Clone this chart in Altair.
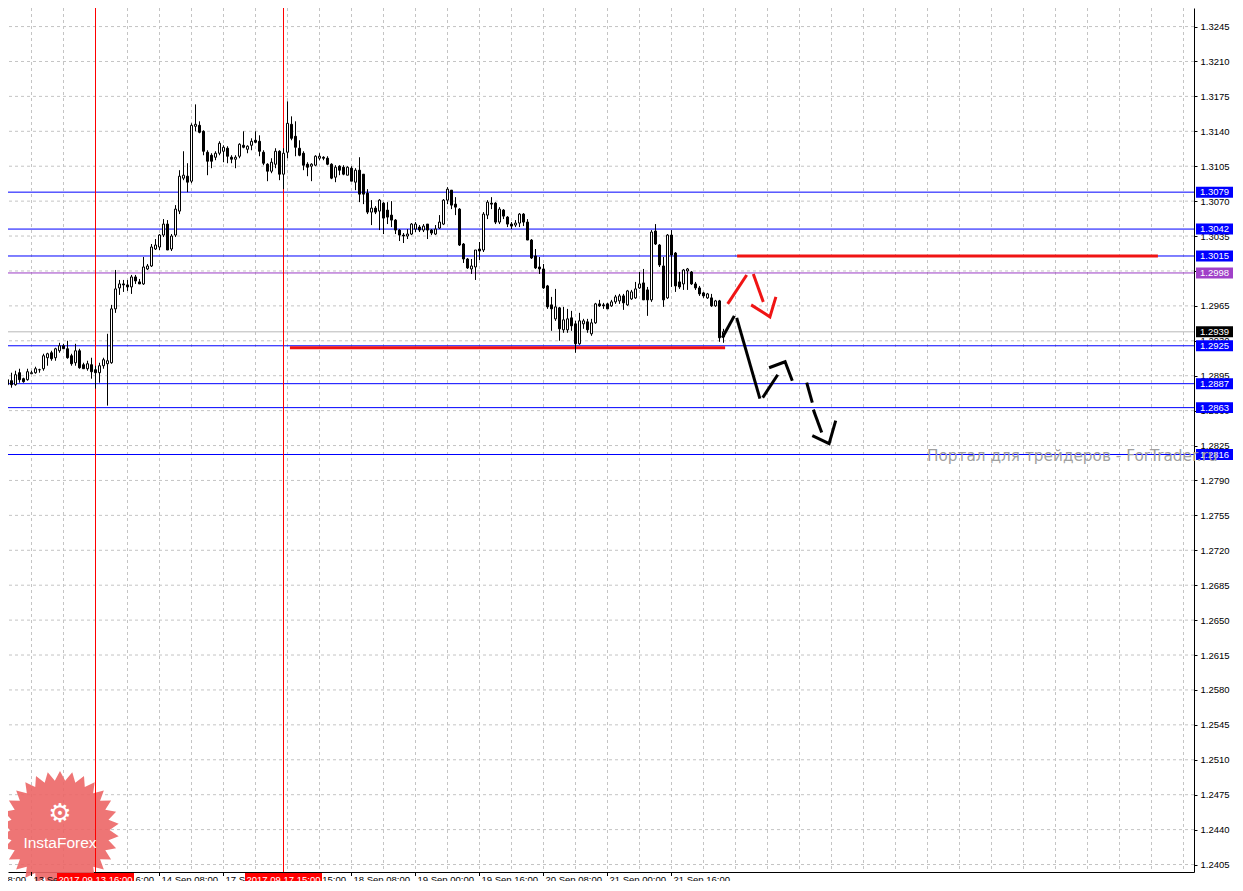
import math
import altair as alt
import pandas as pd

# ---------------- data (H1 candles) ----------------
opens = [1.2893,1.2886,1.2890,1.2886,1.2898,1.2892,1.2891,1.2897,1.2898,1.2901,
1.2902,1.2913,1.2918,1.2913,1.2920,1.2925,1.2922,1.2915,1.2908,1.2920,
1.2906,1.2902,1.2906,1.2901,1.2898,1.2905,1.2907,1.2908,1.2962,1.2983,
1.2987,1.2986,1.2984,1.2994,1.2989,1.2987,1.3002,1.3005,1.3022,1.3024,
1.3036,1.3047,1.3022,1.3036,1.3060,1.3093,1.3095,1.3090,1.3145,1.3146,
1.3140,1.3119,1.3116,1.3114,1.3118,1.3120,1.3123,1.3114,1.3112,1.3115,
1.3126,1.3122,1.3126,1.3131,1.3130,1.3119,1.3107,1.3100,1.3107,1.3120,
1.3097,1.3119,1.3147,1.3135,1.3123,1.3118,1.3107,1.3105,1.3106,1.3113,
1.3114,1.3113,1.3107,1.3094,1.3105,1.3104,1.3096,1.3103,1.3089,1.3101,
1.3097,1.3078,1.3059,1.3063,1.3060,1.3068,1.3061,1.3056,1.3051,1.3041,
1.3036,1.3035,1.3037,1.3042,1.3044,1.3041,1.3047,1.3041,1.3037,1.3043,
1.3047,1.3071,1.3081,1.3067,1.3062,1.3027,1.3012,1.3002,1.3004,1.3022,
1.3021,1.3056,1.3068,1.3068,1.3049,1.3061,1.3054,1.3047,1.3046,1.3048,
1.3057,1.3049,1.3031,1.3015,1.3004,1.3002,1.2985,1.2966,1.2952,1.2963,
1.2941,1.2941,1.2953,1.2947,1.2927,1.2947,1.2949,1.2937,1.2948,1.2967,
1.2966,1.2967,1.2965,1.2969,1.2970,1.2975,1.2966,1.2972,1.2973,1.2983,
1.2988,1.2981,1.2971,1.3040,1.3026,1.3005,1.2973,1.3036,1.3018,1.2989,
1.2987,1.3000,1.2999,1.2987,1.2983,1.2978,1.2973,1.2973,1.2965,1.2970,
1.2934]
highs = [1.2907,1.2898,1.2898,1.2900,1.2902,1.2893,1.2902,1.2900,1.2904,1.2902,
1.2917,1.2918,1.2920,1.2923,1.2928,1.2927,1.2930,1.2917,1.2927,1.2922,
1.2908,1.2910,1.2913,1.2905,1.2908,1.2913,1.2937,1.2966,1.3001,1.2991,
1.2991,1.2991,1.2996,1.2996,1.2992,1.3014,1.3007,1.3027,1.3032,1.3037,
1.3052,1.3051,1.3037,1.3066,1.3101,1.3120,1.3108,1.3148,1.3167,1.3150,
1.3141,1.3121,1.3118,1.3120,1.3130,1.3126,1.3125,1.3116,1.3116,1.3128,
1.3140,1.3126,1.3133,1.3140,1.3136,1.3121,1.3108,1.3113,1.3123,1.3121,
1.3123,1.3170,1.3155,1.3150,1.3131,1.3120,1.3109,1.3108,1.3116,1.3118,
1.3115,1.3115,1.3108,1.3106,1.3106,1.3106,1.3105,1.3105,1.3103,1.3114,
1.3097,1.3082,1.3071,1.3065,1.3072,1.3069,1.3069,1.3070,1.3052,1.3042,
1.3038,1.3042,1.3048,1.3049,1.3046,1.3047,1.3047,1.3042,1.3046,1.3056,
1.3072,1.3084,1.3081,1.3074,1.3063,1.3028,1.3013,1.3012,1.3021,1.3029,
1.3059,1.3071,1.3074,1.3069,1.3064,1.3062,1.3055,1.3049,1.3051,1.3058,
1.3058,1.3052,1.3032,1.3022,1.3014,1.3007,1.2986,1.2974,1.2982,1.2964,
1.2964,1.2962,1.2960,1.2950,1.2958,1.2952,1.2952,1.2952,1.2968,1.2971,
1.2968,1.2968,1.2971,1.2976,1.2977,1.2977,1.2981,1.2981,1.2989,1.2999,
1.3002,1.2984,1.3041,1.3047,1.3027,1.3014,1.3037,1.3041,1.3019,1.2999,
1.3002,1.3003,1.3000,1.2989,1.2985,1.2979,1.2978,1.2977,1.2971,1.2971,
1.2942]
lows = [1.2875,1.2883,1.2883,1.2885,1.2888,1.2888,1.2890,1.2897,1.2897,1.2898,
1.2900,1.2905,1.2910,1.2910,1.2918,1.2922,1.2912,1.2905,1.2905,1.2902,
1.2902,1.2900,1.2892,1.2882,1.2888,1.2902,1.2865,1.2907,1.2958,1.2976,
1.2979,1.2980,1.2977,1.2987,1.2987,1.2986,1.3001,1.3004,1.3021,1.3021,
1.3034,1.3021,1.3020,1.3034,1.3057,1.3091,1.3079,1.3088,1.3140,1.3138,
1.3116,1.3096,1.3103,1.3111,1.3116,1.3109,1.3108,1.3108,1.3103,1.3113,
1.3123,1.3118,1.3121,1.3128,1.3115,1.3106,1.3090,1.3098,1.3103,1.3091,
1.3082,1.3113,1.3131,1.3115,1.3115,1.3101,1.3095,1.3090,1.3105,1.3111,
1.3111,1.3106,1.3092,1.3089,1.3096,1.3096,1.3096,1.3090,1.3081,1.3069,
1.3067,1.3057,1.3046,1.3057,1.3041,1.3037,1.3047,1.3044,1.3037,1.3030,
1.3028,1.3032,1.3036,1.3039,1.3039,1.3039,1.3032,1.3036,1.3036,1.3042,
1.3046,1.3067,1.3062,1.3056,1.3025,1.3008,1.3002,1.2997,1.2991,1.3011,
1.3019,1.3052,1.3062,1.3047,1.3047,1.3052,1.3044,1.3042,1.3044,1.3044,
1.3045,1.3031,1.3012,1.3002,1.2997,1.2982,1.2962,1.2940,1.2950,1.2930,
1.2938,1.2938,1.2940,1.2918,1.2926,1.2942,1.2938,1.2935,1.2947,1.2964,
1.2962,1.2962,1.2964,1.2967,1.2967,1.2961,1.2965,1.2971,1.2972,1.2982,
1.2971,1.2955,1.2969,1.3026,1.3004,1.2964,1.2972,1.2984,1.2979,1.2982,
1.2981,1.2981,1.2986,1.2981,1.2975,1.2973,1.2972,1.2964,1.2964,1.2929,
1.2928]
closes = [1.2886,1.2891,1.2886,1.2896,1.2891,1.2889,1.2899,1.2898,1.2902,1.2901,
1.2915,1.2917,1.2912,1.2922,1.2925,1.2922,1.2913,1.2907,1.2920,1.2903,
1.2902,1.2907,1.2899,1.2898,1.2905,1.2911,1.2910,1.2962,1.2982,1.2987,
1.2986,1.2984,1.2994,1.2990,1.2987,1.3004,1.3005,1.3024,1.3026,1.3036,
1.3047,1.3021,1.3035,1.3062,1.3095,1.3096,1.3089,1.3146,1.3147,1.3139,
1.3120,1.3110,1.3110,1.3118,1.3128,1.3124,1.3115,1.3112,1.3114,1.3127,
1.3124,1.3125,1.3130,1.3129,1.3120,1.3108,1.3100,1.3109,1.3120,1.3097,
1.3118,1.3148,1.3133,1.3124,1.3116,1.3106,1.3104,1.3107,1.3115,1.3115,
1.3113,1.3107,1.3093,1.3104,1.3101,1.3097,1.3104,1.3090,1.3101,1.3077,
1.3077,1.3059,1.3063,1.3059,1.3071,1.3053,1.3054,1.3051,1.3041,1.3036,
1.3035,1.3037,1.3047,1.3047,1.3041,1.3045,1.3041,1.3038,1.3042,1.3049,
1.3071,1.3082,1.3066,1.3064,1.3026,1.3012,1.3003,1.3005,1.3021,1.3020,
1.3057,1.3069,1.3067,1.3049,1.3062,1.3055,1.3047,1.3045,1.3048,1.3057,
1.3049,1.3031,1.3013,1.3003,1.3002,1.2983,1.2964,1.2962,1.2964,1.2942,
1.2951,1.2952,1.2945,1.2927,1.2950,1.2950,1.2941,1.2948,1.2967,1.2965,
1.2965,1.2962,1.2969,1.2974,1.2975,1.2968,1.2980,1.2979,1.2982,1.2987,
1.2971,1.2971,1.3039,1.3027,1.3006,1.2971,1.3036,1.3016,1.2985,1.2984,
1.3001,1.3002,1.2987,1.2983,1.2977,1.2975,1.2977,1.2965,1.2970,1.2933,
1.2939]

price_ticks = [1.2405, 1.2440, 1.2475, 1.2510, 1.2545, 1.2580, 1.2615, 1.2650,
               1.2685, 1.2720, 1.2755, 1.2790, 1.2825, 1.2860, 1.2895, 1.2930,
               1.2965, 1.3000, 1.3035, 1.3070, 1.3105, 1.3140, 1.3175, 1.3210, 1.3245]

level_prices = [1.3079, 1.3042, 1.3015, 1.2925, 1.2887, 1.2863, 1.2816, 1.2998, 1.2939]
level_colors = ["#0000ff"] * 7 + ["#9a3cc4", "#b8b8b8"]

box_prices = [1.3079, 1.3042, 1.3015, 1.2998, 1.2939, 1.2925, 1.2887, 1.2863, 1.2816]
box_colors = ["#0000ff", "#0000ff", "#0000ff", "#a040c8", "#000000",
              "#0000ff", "#0000ff", "#0000ff", "#0000ff"]

marker_bars = [23, 70]
marker_labels = ["2017.09.13 16:00", "2017.09.17 15:00"]

zone_start = [71.6, 183.4]
zone_end = [180.4, 288.6]
zone_price = [1.2923, 1.3015]

arrow_id = ["R1", "R1", "R2", "R2", "R3", "R3", "R3",
            "B1", "B1", "B2", "B2", "B3", "B3", "B4", "B4", "B4",
            "B5", "B5", "B6", "B6", "B7", "B7", "B7"]
arrow_bar = [181.05, 185.8, 187.45, 189.95, 186.9, 191.6, 193.1,
             179.7, 182.7, 183.3, 189.1, 189.8, 193.55, 191.4, 195.4, 197.2,
             200.8, 202.2, 202.45, 204.55, 202.2, 206.4, 208.05]
arrow_price = [1.2967, 1.2996, 1.2997, 1.2969, 1.2966, 1.2954, 1.2974,
               1.2933, 1.2955, 1.2953, 1.2872, 1.2873, 1.2896, 1.2903, 1.2909, 1.2890,
               1.2888, 1.2868, 1.2861, 1.2838, 1.2835, 1.2827, 1.2850]

time_label_bars = [-9, 7, 23, 39, 55, 71, 87, 103, 119, 135, 151, 167]
time_labels = ["12 Sep 08:00", "13 Sep 00:00", "13 Sep 16:00", "14 Sep 08:00",
               "17 Sep 00:00", "17 Sep 15:00", "18 Sep 08:00", "19 Sep 00:00",
               "19 Sep 16:00", "20 Sep 08:00", "21 Sep 00:00", "21 Sep 16:00"]

# ---------------- layout ----------------
W, H = 1186, 864
FONT = "Liberation Sans"
FS = 9.5
xs = alt.Scale(domain=[1.125, 297.625], nice=False, zero=False)
ys = alt.Scale(domain=[1.23975, 1.32636], nice=False, zero=False)
GRID = "#c4c4c4"

AX_Y = alt.Axis(orient="right", values=price_ticks, format=".4f", title=None, grid=False,
                domainColor="black", domainWidth=1, tickColor="black", tickSize=3,
                labelFont=FONT, labelFontSize=FS, labelColor="black", labelPadding=3,
                labelOverlap=False, labelFlush=False)
AX_X = alt.Axis(orient="bottom", labels=False, ticks=False, grid=False, title=None,
                domainColor="black", domainWidth=1)


def X(f):
    return alt.X(f, type="quantitative", scale=xs, axis=AX_X)


def Y(f):
    return alt.Y(f, type="quantitative", scale=ys, axis=AX_Y)


candles = pd.DataFrame({"bar": list(range(len(opens))), "open": opens,
                        "high": highs, "low": lows, "close": closes})
one = pd.DataFrame({"a": [0]})

hgrid = alt.Chart(pd.DataFrame({"p": price_ticks})).mark_rule(
    color=GRID, strokeDash=[3, 3], strokeWidth=1
).encode(y=Y("p"))

grid_bars = list(range(7, 297, 8))
vgrid = alt.Chart(pd.DataFrame({"b": grid_bars})).mark_rule(
    color=GRID, strokeDash=[3, 3], strokeWidth=1
).encode(x=X("b"))

# InstaForex badge (star shape)
n = 30
pts = []
for i in range(2 * n):
    r = 1.0 if i % 2 == 0 else 0.84
    a = math.pi * i / n
    pts.append(f"{r * math.sin(a):.4f},{-r * math.cos(a):.4f}")
star = "M" + " L".join(pts) + " Z"
badge = alt.Chart(one).mark_point(
    shape=star, size=118 * 118, filled=True, color="#ec6666", opacity=0.9, strokeWidth=0
).encode(x=alt.value(52), y=alt.value(822))

levels = alt.Chart(pd.DataFrame({"p": level_prices, "c": level_colors})).mark_rule(
    strokeWidth=1
).encode(y=Y("p"), color=alt.Color("c:N", scale=None))

vlines = alt.Chart(pd.DataFrame({"b": marker_bars})).mark_rule(
    color="#ff0000", strokeWidth=1
).encode(x=X("b"))

zones = alt.Chart(pd.DataFrame({"s": zone_start, "e": zone_end, "p": zone_price})).mark_rule(
    color="#f01414", strokeWidth=3
).encode(x=X("s"), x2="e:Q", y=Y("p"))

wicks = alt.Chart(candles).mark_rule(color="black", strokeWidth=1).encode(
    x=X("bar"), y=Y("low"), y2="high:Q")

bodies = alt.Chart(candles).transform_calculate(
    x1="datum.bar - 0.25", x2="datum.bar + 0.25",
    f="datum.close > datum.open ? 'white' : 'black'"
).mark_rect(stroke="black", strokeWidth=1).encode(
    x=X("x1"), x2="x2:Q", y=Y("open"), y2="close:Q",
    fill=alt.Fill("f:N", scale=None))

arrows_df = pd.DataFrame({"id": arrow_id, "b": arrow_bar, "p": arrow_price,
                          "i": list(range(len(arrow_id)))})
arrows_df["c"] = ["#f01414" if s.startswith("R") else "#000000" for s in arrow_id]
arrows = alt.Chart(arrows_df).mark_line(strokeWidth=3, strokeCap="butt").encode(
    x=X("b"), y=Y("p"), detail="id:N", color=alt.Color("c:N", scale=None), order="i:Q")

gear = alt.Chart(one).mark_text(
    text="⚙", font="DejaVu Sans", fontSize=26, color="white", baseline="middle", align="center"
).encode(x=alt.value(52), y=alt.value(806))
brand = alt.Chart(one).mark_text(
    text="InstaForex", font=FONT, fontSize=15.5, color="white", baseline="middle", align="center"
).encode(x=alt.value(52), y=alt.value(835))

boxes_df = pd.DataFrame({"p": box_prices, "c": box_colors})
boxes = alt.Chart(boxes_df).transform_calculate(
    top="datum.p + 0.00055", bot="datum.p - 0.00055"
).mark_rect().encode(
    x=alt.value(W + 2), x2=alt.value(W + 39),
    y=Y("top"), y2="bot:Q",
    color=alt.Color("c:N", scale=None))
box_text = alt.Chart(boxes_df).mark_text(
    align="left", baseline="middle", font=FONT, fontSize=FS, color="white"
).encode(x=alt.value(W + 6), y=Y("p"), text=alt.Text("p:Q", format=".4f"))

tl_df = pd.DataFrame({"b": time_label_bars, "t": time_labels})
xticks = alt.Chart(tl_df).mark_rule(color="black", strokeWidth=1).encode(
    x=X("b"), y=alt.value(H), y2=alt.value(H + 4))
xlabels = alt.Chart(tl_df).mark_text(
    align="left", baseline="top", dx=2, font=FONT, fontSize=FS, color="black"
).encode(x=X("b"), y=alt.value(H + 3), text="t:N")

mk_df = pd.DataFrame({"b": marker_bars, "t": marker_labels})
mk_box = alt.Chart(mk_df).transform_calculate(
    x1="datum.b - 9.625", x2="datum.b + 9.625"
).mark_rect(color="#ff0000").encode(
    x=X("x1"), x2="x2:Q", y=alt.value(H + 1), y2=alt.value(H + 15))
mk_text = alt.Chart(mk_df).mark_text(
    align="center", baseline="top", font=FONT, fontSize=FS, color="white"
).encode(x=X("b"), y=alt.value(H + 3), text="t:N")

watermark = alt.Chart(one).mark_text(
    text="Портал для трейдеров - ForTrader.ru", align="left", baseline="middle",
    font="DejaVu Sans", fontSize=15.3, color="#a0a0a0"
).encode(x=alt.value(919), y=alt.value(448))

chart = alt.layer(
    hgrid, vgrid, badge, levels, vlines, zones, wicks, bodies, arrows,
    gear, brand, boxes, box_text, xticks, xlabels, mk_box, mk_text, watermark
).properties(
    width=W, height=H,
    autosize=alt.AutoSizeParams(type="none"),
    padding={"left": 0, "top": 0, "right": 41, "bottom": 9},
    background="white",
).configure_view(strokeWidth=0)

chart.save("out.html", embed_options={"renderer": "svg", "actions": False})
